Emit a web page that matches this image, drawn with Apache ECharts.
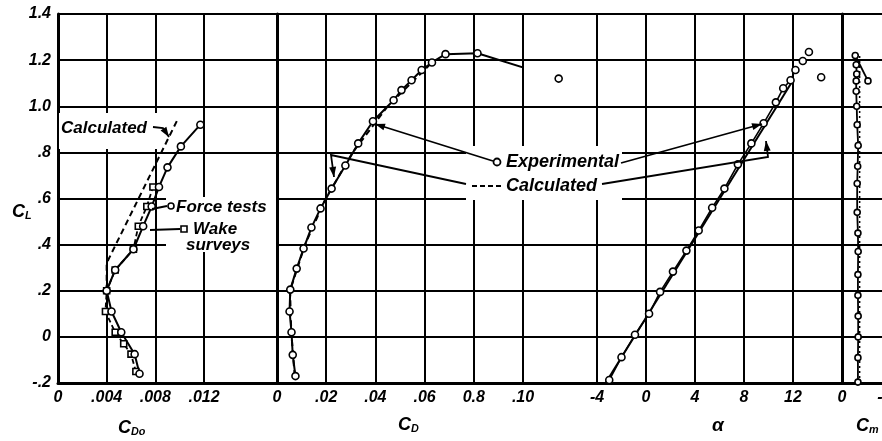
<!DOCTYPE html>
<html>
<head>
<meta charset="utf-8">
<script src="https://cdn.jsdelivr.net/npm/echarts@6/dist/echarts.min.js"></script>
<style>
  html, body { margin: 0; padding: 0; background: #fff; }
  #chart { width: 882px; height: 441px; }
</style>
</head>
<body>
<div id="chart"></div>
<script>
// lift coefficient range (shared by all panels)
var clMin = -0.2, clMax = 1.4;

// C_Do panel - force tests (circles), wake surveys (squares), calculated (dashed)
var cdoForceCl = [-0.16, -0.075, 0.02, 0.11, 0.20, 0.29, 0.38, 0.48, 0.565, 0.65, 0.735, 0.826, 0.92];
var cdoForce = [0.0067, 0.0063, 0.0052, 0.0044, 0.0040, 0.0047, 0.0062, 0.0070, 0.0077, 0.0083, 0.0090, 0.0101, 0.0117];
var cdoWakeCl = [-0.15, -0.075, -0.03, 0.02, 0.11, 0.20, 0.29, 0.38, 0.48, 0.565, 0.65];
var cdoWake = [0.0064, 0.0060, 0.0054, 0.0047, 0.0039, 0.0040, 0.0047, 0.0062, 0.0066, 0.0073, 0.0078];
var cdoCalcCl = [0.20, 0.32, 0.95];
var cdoCalc = [0.0040, 0.0040, 0.0099];

// C_D panel
var cdExpCl = [-0.17, -0.078, 0.02, 0.11, 0.205, 0.296, 0.383, 0.474, 0.557, 0.643, 0.743, 0.839, 0.935, 1.026, 1.07, 1.113, 1.157, 1.19, 1.226, 1.23, 1.12];
var cdExp = [0.0075, 0.0064, 0.0059, 0.0051, 0.0054, 0.0080, 0.0108, 0.0140, 0.0177, 0.0222, 0.0278, 0.0330, 0.0390, 0.0474, 0.0506, 0.0547, 0.0588, 0.0630, 0.0685, 0.0815, 0.1145];
var cdCalcCl = [-0.17, 0.02, 0.2, 0.4, 0.6, 0.8, 1.0, 1.19];
var cdCalc = [0.0072, 0.0058, 0.0053, 0.0114, 0.0198, 0.0308, 0.0450, 0.0630];

// angle of attack panel
var alphaExpCl = [-0.187, -0.088, 0.009, 0.1, 0.195, 0.283, 0.374, 0.461, 0.56, 0.643, 0.748, 0.839, 0.926, 1.017, 1.078, 1.113, 1.157, 1.196, 1.235, 1.126];
var alphaExp = [-3.0, -2.0, -0.9, 0.25, 1.15, 2.2, 3.3, 4.3, 5.4, 6.4, 7.5, 8.6, 9.6, 10.6, 11.2, 11.8, 12.2, 12.8, 13.3, 14.3];
var alphaCalcCl = [-0.2, 1.25];
var alphaCalc = [-3.3, 13.6];

// pitching moment panel
var cmExpCl = [-0.196, -0.09, 0.0, 0.09, 0.18, 0.27, 0.37, 0.45, 0.54, 0.665, 0.74, 0.83, 0.92, 1.0, 1.065, 1.11, 1.14, 1.18, 1.22, 1.11];
var cmExp = [-0.0065, -0.0065, -0.0066, -0.0066, -0.0065, -0.0065, -0.0066, -0.0065, -0.0062, -0.0062, -0.0064, -0.0066, -0.0062, -0.0060, -0.0058, -0.0058, -0.0060, -0.0058, -0.0054, -0.0106];
var cmCalcCl = [-0.2, 1.22];
var cmCalc = [-0.0072, -0.0072];

// tick labels
var cdoTickLabels = ['0', '.004', '.008', '.012'];
var cdTickLabels = ['0', '.02', '.04', '.06', '0.8', '.10'];
var alphaTickLabels = ['-4', '0', '4', '8', '12'];
var cmTickValues = [0, -0.02];
var cmTickLabels = ['0', '-.02'];

function zip(xs, ys) {
  var out = [];
  for (var i = 0; i < xs.length; i++) out.push([xs[i], ys[i]]);
  return out;
}

var FONT = 'Liberation Sans';
var lblStyle = { color: '#000', fontFamily: FONT, fontStyle: 'italic', fontWeight: 'bold', fontSize: 16 };
var gridLine = { show: true, lineStyle: { color: '#000', width: 2 } };

function panelX(idx, min, max, interval, fmt, inverse) {
  return {
    gridIndex: idx, type: 'value', min: min, max: max, interval: interval, inverse: !!inverse,
    axisLine: { show: false }, axisTick: { show: false },
    axisLabel: Object.assign({ margin: 7, formatter: fmt }, lblStyle),
    splitLine: gridLine
  };
}
function byIndex(labels) {
  return function (v, i) { return labels[i]; };
}
function hiddenY(idx, showLine) {
  return {
    gridIndex: idx, type: 'value', min: clMin, max: clMax, interval: 0.2,
    axisLine: { show: !!showLine, lineStyle: { color: '#000', width: 3 } },
    axisTick: { show: false }, axisLabel: { show: false }, splitLine: { show: false }
  };
}

function lineSeries(idx, data, opts) {
  return Object.assign({
    type: 'line', xAxisIndex: idx, yAxisIndex: idx, data: data, clip: false,
    symbol: 'circle', symbolSize: 7, showSymbol: true,
    lineStyle: { color: '#000', width: 2 },
    itemStyle: { color: '#fff', borderColor: '#000', borderWidth: 1.6 },
    animation: false, z: 5
  }, opts);
}

var chart = echarts.init(document.getElementById('chart'));

// annotation helpers (pixel positions)
function arrowPath(pts) {
  var els = [{ type: 'polyline', z: 20, shape: { points: pts }, style: { stroke: '#000', lineWidth: 1.8, fill: null } }];
  var a = pts[pts.length - 2], b = pts[pts.length - 1];
  var dx = b[0] - a[0], dy = b[1] - a[1], len = Math.sqrt(dx * dx + dy * dy);
  var ux = dx / len, uy = dy / len, L = 10, W = 3.5;
  els.push({
    type: 'polygon', z: 20,
    shape: { points: [b, [b[0] - ux * L - uy * W, b[1] - uy * L + ux * W], [b[0] - ux * L + uy * W, b[1] - uy * L - ux * W]] },
    style: { fill: '#000' }
  });
  return els;
}
function txt(x, y, s, size, align) {
  return {
    type: 'text', x: x, y: y, z: 20,
    style: { text: s, fill: '#000', font: 'italic bold ' + (size || 17) + 'px "' + FONT + '"', textAlign: align || 'left', textVerticalAlign: 'middle' }
  };
}
function richTxt(x, y, main, sub, size) {
  return {
    type: 'text', x: x, y: y, z: 20,
    style: {
      text: '{m|' + main + '}{s|' + sub + '}',
      textVerticalAlign: 'middle',
      rich: {
        m: { fontFamily: FONT, fontStyle: 'italic', fontWeight: 'bold', fontSize: size, fill: '#000' },
        s: { fontFamily: FONT, fontStyle: 'italic', fontWeight: 'bold', fontSize: size * 0.6, fill: '#000', padding: [size * 0.5, 0, 0, 0] }
      }
    }
  };
}
function whiteRect(x, y, w, h) {
  return { type: 'rect', z: 15, shape: { x: x, y: y, width: w, height: h }, style: { fill: '#fff' } };
}

var graphics = [
  whiteRect(59, 113, 103, 36),
  whiteRect(166, 197, 110, 55),
  whiteRect(466, 146, 156, 54),
  txt(61, 128, 'Calculated', 17),
  txt(176, 207, 'Force tests', 17),
  txt(193, 229, 'Wake', 17),
  txt(186, 245, 'surveys', 17),
  txt(506, 162, 'Experimental', 18),
  txt(506, 186, 'Calculated', 18),
  { type: 'line', z: 20, shape: { x1: 152, y1: 209, x2: 167, y2: 206 }, style: { stroke: '#000', lineWidth: 1.8 } },
  { type: 'circle', z: 21, shape: { cx: 171, cy: 206, r: 3 }, style: { fill: '#fff', stroke: '#000', lineWidth: 1.6 } },
  { type: 'line', z: 20, shape: { x1: 150, y1: 230, x2: 180, y2: 229 }, style: { stroke: '#000', lineWidth: 1.8 } },
  { type: 'rect', z: 21, shape: { x: 181, y: 226, width: 6, height: 6 }, style: { fill: '#fff', stroke: '#000', lineWidth: 1.6 } },
  { type: 'circle', z: 21, shape: { cx: 497, cy: 162, r: 3.5 }, style: { fill: '#fff', stroke: '#000', lineWidth: 1.8 } },
  { type: 'line', z: 20, shape: { x1: 472, y1: 186, x2: 503, y2: 186 }, style: { stroke: '#000', lineWidth: 1.8, lineDash: [5, 3] } },
  richTxt(12, 212, 'C', 'L', 18),
  richTxt(118, 428, 'C', 'Do', 18),
  richTxt(398, 425, 'C', 'D', 18),
  txt(712, 426, 'α', 19),
  richTxt(856, 426, 'C', 'm', 18)
];
graphics = graphics
  .concat(arrowPath([[153, 127], [163, 128], [169, 137]]))
  .concat(arrowPath([[493, 161], [375, 124]]))
  .concat(arrowPath([[621, 163], [762, 124]]))
  .concat(arrowPath([[466, 184], [331, 155], [334, 177]]))
  .concat(arrowPath([[602, 184], [768, 157], [766, 141]]));

var baseGrid = { top: 14, bottom: 58, outerBoundsMode: 'none', containLabel: false };
var option = {
  backgroundColor: '#fff',
  animation: false,
  grid: [
    Object.assign({ left: 58, right: 0 }, baseGrid),
    Object.assign({ left: 58, width: 146 }, baseGrid),
    Object.assign({ left: 277, width: 246 }, baseGrid),
    Object.assign({ left: 597, width: 196 }, baseGrid),
    Object.assign({ left: 842, width: 49 }, baseGrid)
  ],
  xAxis: [
    { gridIndex: 0, type: 'value', min: 0, max: 1, axisLine: { show: true, onZero: false, lineStyle: { color: '#000', width: 3 } }, axisTick: { show: false }, axisLabel: { show: false }, splitLine: { show: false } },
    panelX(1, 0, 0.012, 0.004, byIndex(cdoTickLabels)),
    panelX(2, 0, 0.10, 0.02, byIndex(cdTickLabels)),
    panelX(3, -4, 12, 4, byIndex(alphaTickLabels)),
    panelX(4, -0.02, 0, 0.02, function (v) {
      for (var i = 0; i < cmTickValues.length; i++) {
        if (Math.abs(v - cmTickValues[i]) < 1e-9) return cmTickLabels[i];
      }
      return '';
    }, true)
  ],
  yAxis: [
    {
      gridIndex: 0, type: 'value', min: clMin, max: clMax, interval: 0.2,
      axisLine: { show: true, lineStyle: { color: '#000', width: 3 } }, axisTick: { show: false },
      axisLabel: Object.assign({ margin: 7, formatter: function (v) {
        if (Math.abs(v) < 1e-9) return '0';
        var s = v.toFixed(1);
        return Math.abs(v) < 1 ? s.replace('0.', '.') : s;
      } }, lblStyle),
      splitLine: gridLine
    },
    hiddenY(1, false),
    hiddenY(2, true),
    hiddenY(3, false),
    hiddenY(4, true)
  ],
  series: [
    { type: 'line', xAxisIndex: 0, yAxisIndex: 0, data: [], silent: true },
    lineSeries(1, zip(cdoCalc, cdoCalcCl), { symbol: 'none', lineStyle: { color: '#000', width: 2, type: [6, 4] } }),
    lineSeries(1, zip(cdoWake, cdoWakeCl), { symbol: 'rect', symbolSize: 6, lineStyle: { color: '#000', width: 1.8, type: [5, 3] } }),
    lineSeries(1, zip(cdoForce, cdoForceCl), {}),
    lineSeries(2, zip(cdCalc, cdCalcCl), { symbol: 'none', lineStyle: { color: '#000', width: 2, type: [6, 4] } }),
    lineSeries(2, zip(cdExp, cdExpCl), {}),
    lineSeries(3, zip(alphaCalc, alphaCalcCl), { symbol: 'none', lineStyle: { color: '#000', width: 2 } }),
    lineSeries(3, zip(alphaExp, alphaExpCl), { lineStyle: { color: '#000', width: 1.6 } }),
    lineSeries(4, zip(cmCalc, cmCalcCl), { symbol: 'none', lineStyle: { color: '#000', width: 1.5, type: [2, 3] } }),
    lineSeries(4, zip(cmExp, cmExpCl), { symbolSize: 6, lineStyle: { color: '#000', width: 1.8 } })
  ],
  graphic: graphics
};

chart.setOption(option);
</script>
</body>
</html>
